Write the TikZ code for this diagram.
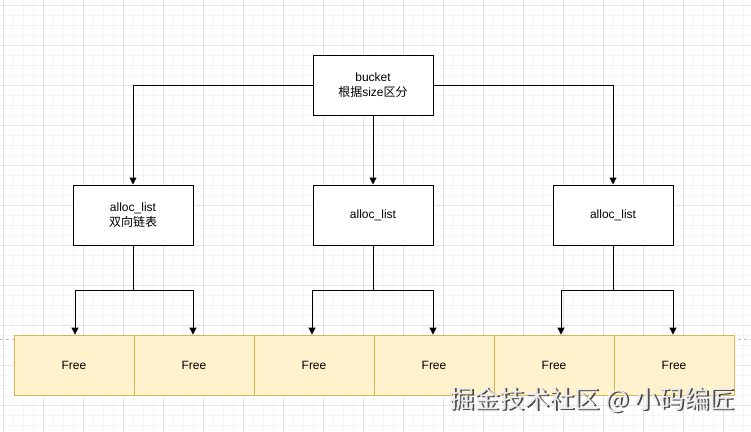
\documentclass[tikz,border=0pt]{standalone}
\usepackage{fontspec}
\setmainfont{Liberation Sans}
\newfontfamily\cjk{Noto Sans CJK SC}
\usetikzlibrary{arrows.meta}
\definecolor{gridmaj}{HTML}{E3E3E3}
\definecolor{gridmin}{HTML}{F5F5F5}
\definecolor{freefill}{HTML}{FFF2CC}
\definecolor{freedraw}{HTML}{D6B656}
\tikzset{
  box/.style={draw=black, line width=1pt, fill=white, minimum width=120pt, minimum height=60pt, inner sep=0pt, align=center, font=\fontsize{12}{15}\selectfont},
  freebox/.style={draw=freedraw, line width=0.8pt, fill=freefill, minimum width=120pt, minimum height=60pt, inner sep=0pt, font=\fontsize{12}{15}\selectfont},
  conn/.style={draw=black, line width=1pt, -{Triangle[length=7pt,width=7pt]}},
  plain/.style={draw=black, line width=1pt}
}
\begin{document}
\begin{tikzpicture}[x=1pt,y=-1pt]
\useasboundingbox (0,0) rectangle (751,431);
\fill[white] (0,0) rectangle (751,431);
% grid
\foreach \x in {3,13,...,751} \draw[gridmin, line width=0.6pt] (\x,0) -- (\x,431);
\foreach \y in {5,15,...,431} \draw[gridmin, line width=0.6pt] (0,\y) -- (751,\y);
\foreach \x in {3,43,...,751} \draw[gridmaj, line width=0.8pt] (\x,0) -- (\x,431);
\foreach \y in {5,45,...,431} \draw[gridmaj, line width=0.8pt] (0,\y) -- (751,\y);
% page break line
\draw[gray!50, dashed, line width=0.6pt] (0,339) -- (751,339);

% nodes
\node[box] (bucket) at (373,85) {bucket\\{\cjk 根据}size{\cjk 区分}};
\node[box] (a1) at (133,215) {alloc\_list\\{\cjk 双向链表}};
\node[box] (a2) at (373,215) {alloc\_list};
\node[box] (a3) at (613,215) {alloc\_list};
\foreach \i/\cx in {1/74,2/194,3/314,4/434,5/554,6/674}
  \node[freebox] (f\i) at (\cx,365) {Free};

% connectors from bucket
\draw[conn] (bucket.west) -| (a1.north);
\draw[conn] (bucket.south) -- (a2.north);
\draw[conn] (bucket.east) -| (a3.north);

% junctions
\coordinate (j1) at (133,290);
\coordinate (j2) at (373,290);
\coordinate (j3) at (613,290);
\draw[plain] (a1.south) -- (j1);
\draw[conn] (j1) -| ([xshift=1pt]f1.north);
\draw[conn] (j1) -| ([xshift=-1pt]f2.north);
\draw[plain] (a2.south) -- (j2);
\draw[conn] (j2) -| ([xshift=-2pt]f3.north);
\draw[conn] (j2) -| ([xshift=-1pt]f4.north);
\draw[plain] (a3.south) -- (j3);
\draw[conn] (j3) -| ([xshift=7pt]f5.north);
\draw[conn] (j3) -| ([xshift=-1pt]f6.north);

% watermark
\node[anchor=east, text=black!70, font=\cjk\fontsize{25}{28}\selectfont, inner sep=0pt] (wmshadow) at (736.5,401.5) {掘金技术社区 @ 小码编匠};
\node[anchor=east, text=black!8, font=\cjk\fontsize{25}{28}\selectfont, inner sep=0pt] (wm) at (735,400) {掘金技术社区 @ 小码编匠};
\end{tikzpicture}
\end{document}
